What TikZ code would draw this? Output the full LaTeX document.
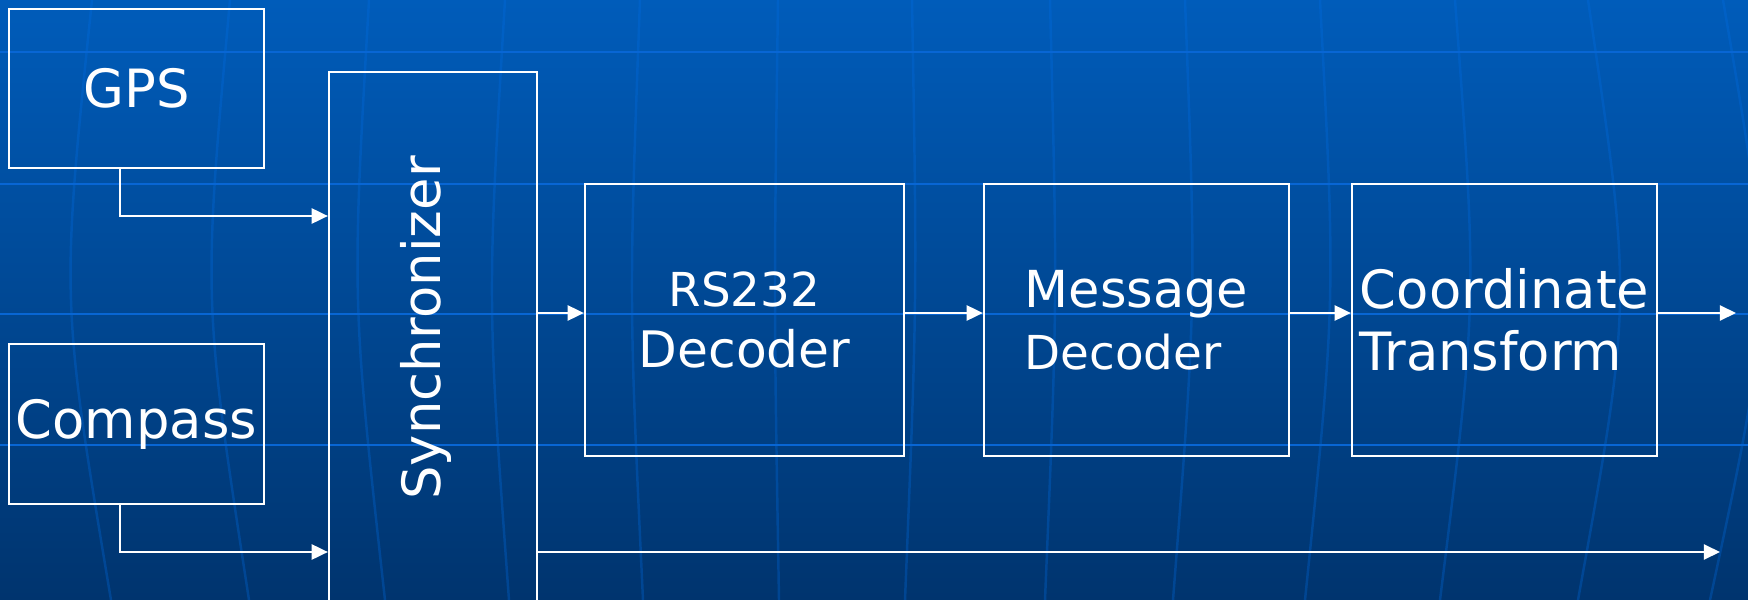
\documentclass[tikz,border=0pt]{standalone}
\usepackage{fontspec}
\setmainfont{DejaVu Sans}
\usetikzlibrary{arrows.meta}

\definecolor{bgtop}{RGB}{0,92,186}
\definecolor{bgbot}{RGB}{0,52,110}
\definecolor{gridblue}{RGB}{8,102,212}
\definecolor{arcblue}{RGB}{0,110,230}

\newcommand{\fs}[1]{\fontsize{#1}{17.6}\selectfont}

\tikzset{
    blk/.style={draw=white, line width=0.6pt, inner sep=0pt, text=white, align=center, font=\fs{15}},
    arr/.style={draw=white, line width=0.6pt, -{Triangle[length=4.6pt,width=4.3pt]}}
}

\begin{document}
\begin{tikzpicture}[x=0.01cm, y=-0.01cm]
    \useasboundingbox (0,0) rectangle (1748,600);
    \clip (0,0) rectangle (1748,600);
    \shade[top color=bgtop, bottom color=bgbot] (0,0) rectangle (1748,600);

    \foreach \a/\b/\c in {92/71/111, 230/212/249, 369/358/385, 505/492/509, 640/632/643, 778/775/779, 912/915/905, 1050/1055/1045, 1185/1192/1173, 1320/1330/1305, 1455/1470/1440, 1588/1620/1578, 1723/1760/1710}
    \draw[arcblue, opacity=0.3, line width=0.7pt] (\a,0) .. controls ({4/3*(\b-(\a+\c)/8)},300) .. (\c,600);

    \foreach \y in {52,184,314,445}
    \draw[gridblue, line width=0.8pt] (0,\y) -- (1748,\y);

    \node[blk, minimum width=2.55cm, minimum height=1.59cm] (gps) at (136.5,88.5) {GPS};
    \node[blk, minimum width=2.55cm, minimum height=1.6cm] (compass) at (136.5,424) {Compass};
    \node[blk, minimum width=2.08cm, minimum height=5.78cm] (sync) at (433,361) {};
    \node[text=white, font=\fs{15}, rotate=90] (synclabel) at (426,328) {Synchronizer};
    \node[blk, minimum width=3.19cm, minimum height=2.72cm] (rs) at (744.5,320) {{\fs{13.3}RS232}\\{\fs{14.3}Decoder}};
    \node[blk, align=left, minimum width=3.05cm, minimum height=2.72cm] (msg) at (1136.5,320) {{\fs{14.5}Message}\\{\fs{13.3}Decoder}};
    \node[blk, align=left, minimum width=3.05cm, minimum height=2.72cm] (coord) at (1504.5,320) {Coordinate\\Transform};

    \coordinate (row) at (0,313);
    \coordinate (gpsin) at (120,216);
    \coordinate (cmpin) at (120,552);
    \coordinate (out1) at (1736,313);
    \coordinate (out2) at (1720,552);

    \draw[arr] (gps.south -| gpsin) |- (sync.west |- gpsin);
    \draw[arr] (compass.south -| cmpin) |- (sync.west |- cmpin);
    \draw[arr] (sync.east |- row) -- (rs.west |- row);
    \draw[arr] (rs.east |- row) -- (msg.west |- row);
    \draw[arr] (msg.east |- row) -- (coord.west |- row);
    \draw[arr] (coord.east |- row) -- (out1);
    \draw[arr] (sync.east |- out2) -- (out2);
\end{tikzpicture}
\end{document}
